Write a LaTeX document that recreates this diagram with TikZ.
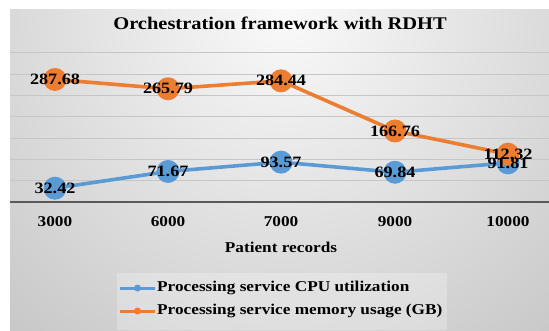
\documentclass[tikz,border=0pt]{standalone}
\usepackage{fontspec}
\usetikzlibrary{calc}
\setmainfont{Liberation Serif}[FakeStretch=1.15]
\definecolor{cpu}{HTML}{5B9BD5}
\definecolor{mem}{HTML}{ED7D31}
\definecolor{gridc}{HTML}{C6C6C6}
\definecolor{axisc}{HTML}{595959}
\tikzset{
  gridline/.style={draw=gridc, line width=0.9pt},
  seriesline/.style={line width=3.6pt, line cap=round, line join=round},
  marker/.style={circle, inner sep=0pt, minimum size=23pt},
  datalabel/.style={font=\bfseries\fontsize{15.8}{16}\selectfont, inner sep=0pt},
  ticklabel/.style={font=\bfseries\fontsize{15}{16}\selectfont, inner sep=0pt},
  legtext/.style={font=\bfseries\fontsize{15}{16}\selectfont, anchor=west, inner sep=0pt},
}
\begin{document}
\begin{tikzpicture}[x=1pt,y=-1pt]
\useasboundingbox (0,0) rectangle (549,330);
\fill[white] (0,0) rectangle (549,330);
\begin{scope}
  \clip (10,9) rectangle (549,330);
  \shade[inner color=black!2, outer color=black!28] (285,10) circle (560pt);
\end{scope}
% gridlines
\foreach \k in {1,...,7}
  \draw[gridline] (10,{202-21.3*\k}) -- (549,{202-21.3*\k});
% axis
\draw[draw=axisc, line width=1.8pt] (10,202) -- (549,202);
% title
\node[font=\bfseries\fontsize{17.8}{18}\selectfont, inner sep=0pt] (title) at (280,23) {Orchestration framework with RDHT};
% data
\begin{scope}[shift={(0,202)}, y=0.426pt]
  \coordinate (c1) at (55,32.42);
  \coordinate (c2) at (168,71.67);
  \coordinate (c3) at (281,93.57);
  \coordinate (c4) at (395,69.84);
  \coordinate (c5) at (508,91.81);
  \coordinate (m1) at (55,287.68);
  \coordinate (m2) at (168,265.79);
  \coordinate (m3) at (281,284.44);
  \coordinate (m4) at (395,166.76);
  \coordinate (m5) at (508,112.32);
\end{scope}
\draw[seriesline, cpu] (c1) -- (c2) -- (c3) -- (c4) -- (c5);
\foreach \i in {1,...,5} \node[marker, fill=cpu] (cm\i) at (c\i) {};
\draw[seriesline, mem] (m1) -- (m2) -- (m3) -- (m4) -- (m5);
\foreach \i in {1,...,5} \node[marker, fill=mem] (mm\i) at (m\i) {};
\node[datalabel] (lc1) at (c1) {32.42};
\node[datalabel] (lc2) at (c2) {71.67};
\node[datalabel] (lc3) at (c3) {93.57};
\node[datalabel] (lc4) at (c4) {69.84};
\node[datalabel] (lc5) at (c5) {91.81};
\node[datalabel] (lm1) at (m1) {287.68};
\node[datalabel] (lm2) at (m2) {265.79};
\node[datalabel] (lm3) at (m3) {284.44};
\node[datalabel] (lm4) at (m4) {166.76};
\node[datalabel] (lm5) at (m5) {112.32};
% x tick labels
\node[ticklabel] (x1) at (55,222) {3000};
\node[ticklabel] (x2) at (168,222) {6000};
\node[ticklabel] (x3) at (281,222) {7000};
\node[ticklabel] (x4) at (395,222) {9000};
\node[ticklabel] (x5) at (508,222) {10000};
\node[ticklabel] (xtitle) at (281,247) {Patient records};
% legend
\fill[white, opacity=0.25] (117,273) rectangle (447,330);
\coordinate (la1) at (120,288);
\coordinate (lb1) at (155,288);
\coordinate (la2) at (120,311);
\coordinate (lb2) at (155,311);
\draw[line width=3pt, cpu] (la1) -- (lb1);
\node[circle, inner sep=0pt, minimum size=7pt, fill=cpu] (ld1) at ($(la1)!0.5!(lb1)$) {};
\draw[line width=3pt, mem] (la2) -- (lb2);
\node[circle, inner sep=0pt, minimum size=7pt, fill=mem] (ld2) at ($(la2)!0.5!(lb2)$) {};
\node[legtext] (lt1) at (157,288) {Processing service CPU utilization};
\node[legtext] (lt2) at (157,311) {Processing service memory usage (GB)};
\end{tikzpicture}
\end{document}
